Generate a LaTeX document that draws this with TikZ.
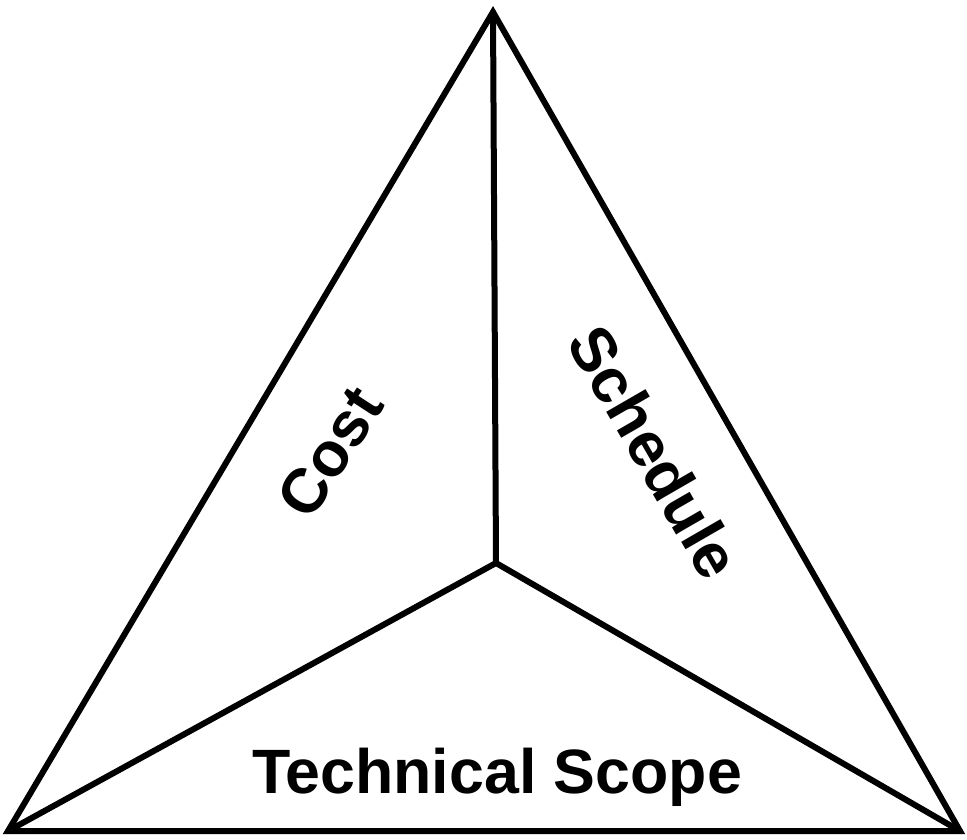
\documentclass[tikz,border=0pt]{standalone}
\usepackage{fontspec}
\setmainfont{Liberation Sans}
\begin{document}
\begin{tikzpicture}[x=0.75pt,y=-0.75pt,
  edge/.style={line width=4.5pt,line join=miter,line cap=round},
  lbl/.style={font=\fontsize{47}{47}\selectfont\bfseries,inner sep=0pt}]
\useasboundingbox (0,0) rectangle (967,839);
\coordinate (top) at (493,12);
\coordinate (bl) at (8,831);
\coordinate (br) at (960,831);
\coordinate (ctr) at (496,563);
\draw[edge] (top) -- (bl) -- (br) -- cycle;
\draw[edge] (top) -- (ctr);
\draw[edge] (bl) -- (ctr) -- (br);
\node[lbl,rotate=57] (cost) at (330,452) {Cost};
\node[lbl,rotate=-60] (sched) at (655,452) {Schedule};
\node[lbl,anchor=base] (tech) at (497,793) {Technical Scope};
\end{tikzpicture}
\end{document}
